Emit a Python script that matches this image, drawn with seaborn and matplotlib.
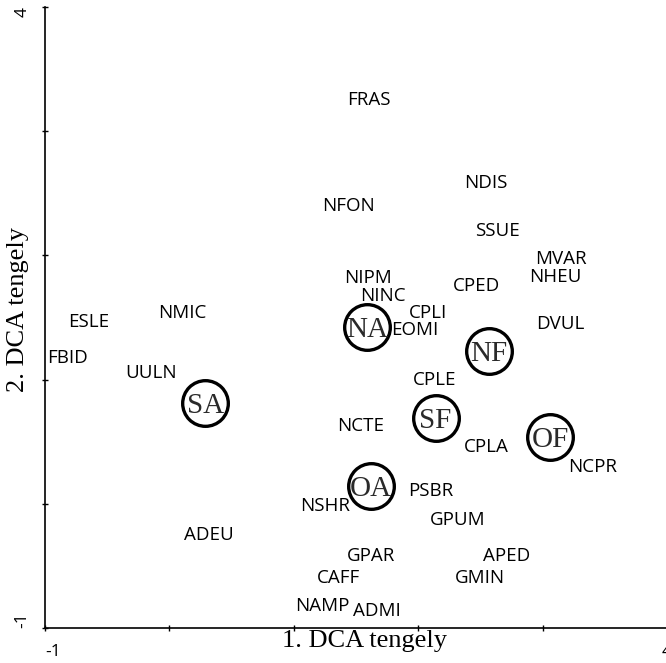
import matplotlib
matplotlib.use("Agg")
import matplotlib.pyplot as plt
import seaborn as sns
import pandas as pd

# Species scores on the first two DCA axes
species = ["FRAS", "NDIS", "NFON", "SSUE", "MVAR", "NHEU", "CPED", "DVUL",
           "NIPM", "NINC", "CPLI", "EOMI", "CPLE", "NCTE", "CPLA", "NCPR",
           "ESLE", "NMIC", "FBID", "UULN", "PSBR", "NSHR", "GPUM", "GPAR",
           "APED", "CAFF", "GMIN", "NAMP", "ADMI", "ADEU"]
species_ax1 = [1.60, 2.54, 1.44, 2.64, 3.15, 3.10, 2.47, 3.14,
               1.60, 1.72, 2.08, 1.97, 2.13, 1.54, 2.55, 3.40,
               -0.65, 0.10, -0.82, -0.15, 2.10, 1.25, 2.32, 1.62,
               2.71, 1.36, 2.50, 1.23, 1.67, 0.32]
species_ax2 = [3.25, 2.58, 2.40, 2.20, 1.97, 1.83, 1.75, 1.45,
               1.82, 1.67, 1.54, 1.40, 1.00, 0.63, 0.46, 0.30,
               1.46, 1.54, 1.17, 1.05, 0.10, -0.02, -0.13, -0.42,
               -0.42, -0.60, -0.60, -0.82, -0.86, -0.25]

# Sample-group scores
sites = ["SA", "NA", "NF", "SF", "OF", "OA"]
sites_ax1 = [0.29, 1.59, 2.57, 2.14, 3.06, 1.62]
sites_ax2 = [0.81, 1.42, 1.23, 0.69, 0.54, 0.14]

axis_ticks = [-1, 0, 1, 2, 3, 4]
axis_ticklabels = ["-1", "", "", "", "", "4"]

sns.set_theme(style="white")
plt.rcParams["font.family"] = ["Open Sans", "DejaVu Sans"]

fig = plt.figure(figsize=(6.66, 6.63), dpi=100)
ax = fig.add_axes([0.0676, 0.0528, 0.9339, 0.9366])

site_df = pd.DataFrame({"ax1": sites_ax1, "ax2": sites_ax2, "site": sites})
sns.scatterplot(data=site_df, x="ax1", y="ax2", ax=ax, s=1080, marker="o",
                facecolor="white", edgecolor="black", linewidth=2.4,
                legend=False, zorder=3)
for name, x, y in zip(sites, sites_ax1, sites_ax2):
    ax.text(x, y, name, ha="center", va="center_baseline", fontsize=21,
            family="Liberation Serif", color="#2a2a2a", zorder=4)

for name, x, y in zip(species, species_ax1, species_ax2):
    ax.text(x, y, name, ha="center", va="center", fontsize=13.5,
            color="black", zorder=2)

ax.set_xlim(-1, 4)
ax.set_ylim(-1, 4)
ax.set_xticks(axis_ticks)
ax.set_xticklabels(axis_ticklabels, fontsize=12.5)
ax.set_yticks(axis_ticks)
ax.set_yticklabels(axis_ticklabels, fontsize=12.5, rotation=90)
ylabels = ax.get_yticklabels()
ylabels[0].set_va("bottom")
ylabels[-1].set_va("top")
xlabels = ax.get_xticklabels()
xlabels[0].set_ha("left")

ax.tick_params(axis="both", direction="inout", length=5, width=1,
               color="black", labelcolor="black", bottom=True, left=True)
ax.tick_params(axis="x", pad=9)
ax.tick_params(axis="y", pad=8)

for side in ["top", "right"]:
    ax.spines[side].set_visible(False)
for side in ["left", "bottom"]:
    ax.spines[side].set_color("black")
    ax.spines[side].set_linewidth(1.2)

ax.set_xlabel("")
ax.set_ylabel("")
fig.text(365 / 666, 1 - 641 / 663, "1. DCA tengely", family="Liberation Serif",
         fontsize=19, color="black", ha="center", va="center")
fig.text(18 / 666, 1 - 310 / 663, "2. DCA tengely", family="Liberation Serif",
         fontsize=19, color="black", ha="center", va="center", rotation=90)

fig.savefig("out.png", dpi=100)
